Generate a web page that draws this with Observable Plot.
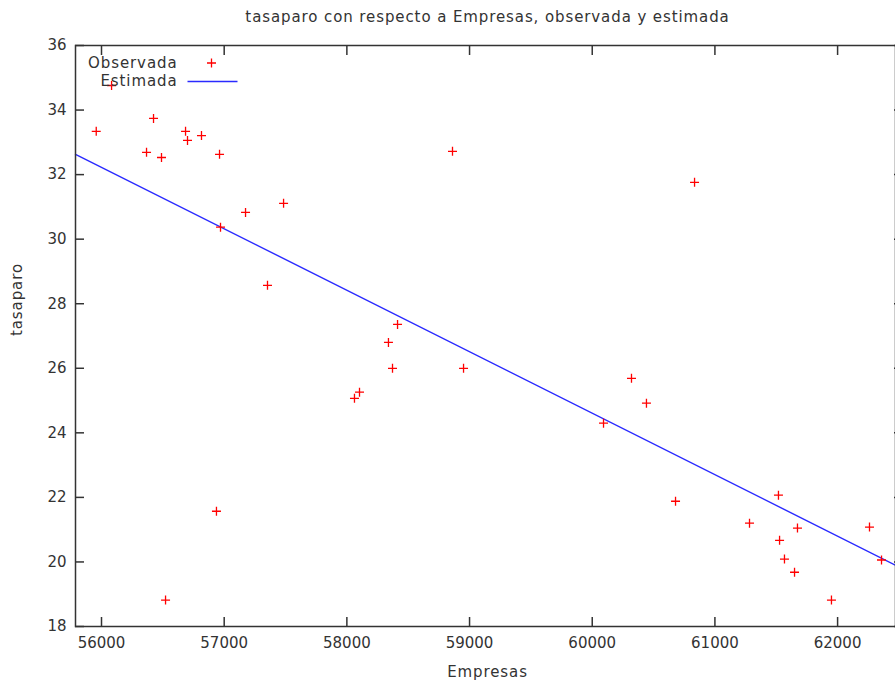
<!DOCTYPE html>
<html><head><meta charset="utf-8">
<script src="https://cdn.jsdelivr.net/npm/d3@7"></script>
<script src="https://cdn.jsdelivr.net/npm/@observablehq/plot@0.6"></script>
<style>body{margin:0;background:#fff} svg{display:block}</style>
</head><body><div id="chart"></div>
<script>
const title = "tasaparo con respecto a Empresas, observada y estimada";
const xLabel = "Empresas";
const yLabel = "tasaparo";
const legendLabels = ["Observada", "Estimada"];

const empresas = [55957, 56082, 56367, 56424, 56489, 56685, 56701, 56815, 56962, 56970,
  57174, 57484, 57353, 56937, 56522, 58413, 58339, 58372, 58103, 58062,
  58861, 58951, 60092, 60320, 60442, 60679, 60834, 61282, 61518, 61673,
  61527, 61567, 61649, 61950, 62260, 62358];
const tasaparo = [33.34, 34.76, 32.69, 33.74, 32.53, 33.34, 33.06, 33.21, 32.63, 30.37,
  30.83, 31.11, 28.57, 21.57, 18.82, 27.36, 26.80, 26.00, 25.26, 25.07,
  32.72, 26.00, 24.30, 25.69, 24.92, 21.88, 31.76, 21.20, 22.07, 21.05,
  20.67, 20.09, 19.68, 18.82, 21.08, 20.06];

const estimadaX = [55788, 62472];
const estimadaY = [32.63, 19.90];

const xTicks = [56000, 57000, 58000, 59000, 60000, 61000, 62000];
const yTicks = [18, 20, 22, 24, 26, 28, 30, 32, 34, 36];

const obs = empresas.map((e, i) => ({x: e, y: tasaparo[i]}));
const est = estimadaX.map((e, i) => ({x: e, y: estimadaY[i]}));

const cross = {draw(ctx) { const r = 4.5; ctx.moveTo(-r, 0); ctx.lineTo(r, 0); ctx.moveTo(0, -r); ctx.lineTo(0, r); }};
const legendLine = {draw(ctx) { ctx.moveTo(-25, 0); ctx.lineTo(25, 0); }};

const font = "DejaVu Sans, Verdana, sans-serif";
const ink = "#333";
const red = "#ff0000";
const blue = "#2a2aff";

const txt = {fill: ink, fontSize: 15, lineAnchor: "middle"};

const chart = Plot.plot({
  width: 895, height: 682,
  marginLeft: 75, marginTop: 45, marginBottom: 56, marginRight: 0,
  style: {fontFamily: font, fontSize: "15px", color: ink, background: "#fff"},
  x: {domain: [55788, 62472]},
  y: {domain: [18, 36]},
  marks: [
    Plot.line(est, {x: "x", y: "y", stroke: blue, strokeWidth: 1.4}),
    Plot.dot(obs, {x: "x", y: "y", symbol: cross, fill: "none", stroke: red, strokeWidth: 1.3}),
    Plot.axisX({ticks: xTicks, anchor: "bottom", tickSize: -9, tickPadding: 20, tickFormat: d => String(d), label: null, stroke: ink, strokeWidth: 1.5, fill: ink}),
    Plot.axisX({ticks: xTicks, anchor: "top", tickSize: -9, tickFormat: () => "", label: null, stroke: ink, strokeWidth: 1.5}),
    Plot.axisY({ticks: yTicks, anchor: "left", tickSize: -9, tickPadding: 18, tickFormat: d => String(d), label: null, stroke: ink, strokeWidth: 1.5, fill: ink}),
    Plot.axisY({ticks: yTicks, anchor: "right", tickSize: -2, tickFormat: () => "", label: null, stroke: ink, strokeWidth: 1.5}),
    Plot.frame({stroke: ink, strokeWidth: 1.5}),
    Plot.text([title], {...txt, frameAnchor: "top", dy: -28, dx: 2}),
    Plot.text([xLabel], {...txt, frameAnchor: "bottom", dy: 46, dx: 2}),
    Plot.text([yLabel], {...txt, frameAnchor: "left", dx: -58, rotate: -90}),
    Plot.text([legendLabels[0]], {...txt, frameAnchor: "top-left", dx: 102, dy: 17.5, textAnchor: "end"}),
    Plot.text([legendLabels[1]], {...txt, frameAnchor: "top-left", dx: 102, dy: 36, textAnchor: "end"}),
    Plot.dot([legendLabels[0]], {frameAnchor: "top-left", dx: 136, dy: 17.5, symbol: cross, fill: "none", stroke: red, strokeWidth: 1.3}),
    Plot.dot([legendLabels[1]], {frameAnchor: "top-left", dx: 137, dy: 36, symbol: legendLine, fill: "none", stroke: blue, strokeWidth: 1.4})
  ]
});
d3.select(chart).selectAll("g[aria-label='text'] text").attr("letter-spacing", "0.9px");
document.getElementById("chart").appendChild(chart);
</script>
</body></html>
